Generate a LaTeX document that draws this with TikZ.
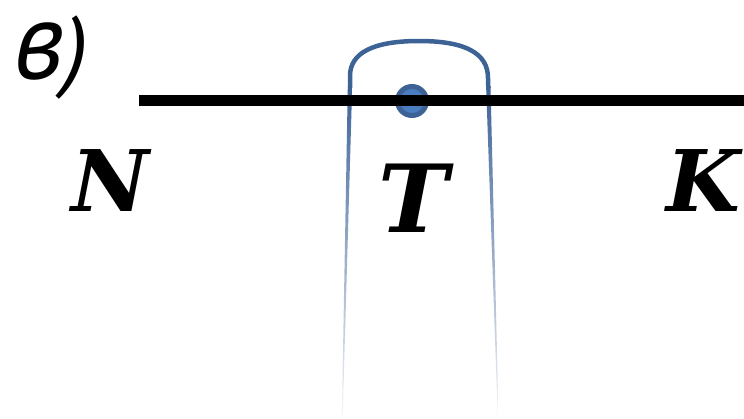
\documentclass[tikz,border=0pt]{standalone}
\usepackage{fontspec}
\usepackage{tikz}
\usetikzlibrary{positioning}
\newfontfamily\lblfont{DejaVu Serif}
\newfontfamily\cyrfont{PT Sans}
\definecolor{cFinger}{RGB}{60,98,150}
\definecolor{cDot}{RGB}{74,126,192}

\begin{document}
\begin{tikzpicture}[x=1pt, y=-1pt,
  lbl/.style={font=\lblfont\bfseries\itshape\fontsize{85}{85}\selectfont, inner sep=0pt},
  dot/.style={circle, draw=cFinger, fill=cDot, line width=5pt, minimum size=29pt, inner sep=0pt},
  finger/.style={draw=cFinger, line width=4.5pt}]
  \useasboundingbox (0,0) rectangle (744,418);
  % label
  \node[font=\cyrfont\itshape\fontsize{90}{90}\selectfont, anchor=base west, inner sep=0pt] (tag) at (13,79) {{\fontsize{112}{112}\selectfont в})};
  % finger
  \draw[finger] (350,88) -- (350,76) .. controls (350,53) and (373,41) .. (419,41)
    .. controls (465,41) and (488,53) .. (488,78) -- (488.3,88);
  \shade[top color=cFinger, bottom color=cFinger!5] (347.8,86) -- (352.2,86) -- (342.6,418) -- (341.8,418) -- cycle;
  \shade[top color=cFinger, bottom color=cFinger!5] (486.1,86) -- (490.5,86) -- (498.6,418) -- (497.8,418) -- cycle;
  % point and line
  \node[dot] (Tp) at (412,101) {};
  \coordinate (NL) at (139,100.5);
  \coordinate (KR) at (744,100.5);
  \draw[line width=11pt] (NL) -- (KR);
  % letters
  \node[lbl] (N) at (110,181) {N};
  \node[lbl, font=\lblfont\bfseries\itshape\fontsize{94}{94}\selectfont] (T) at (413,198) {T};
  \node[lbl] (K) at (703,181) {K};
\end{tikzpicture}
\end{document}
